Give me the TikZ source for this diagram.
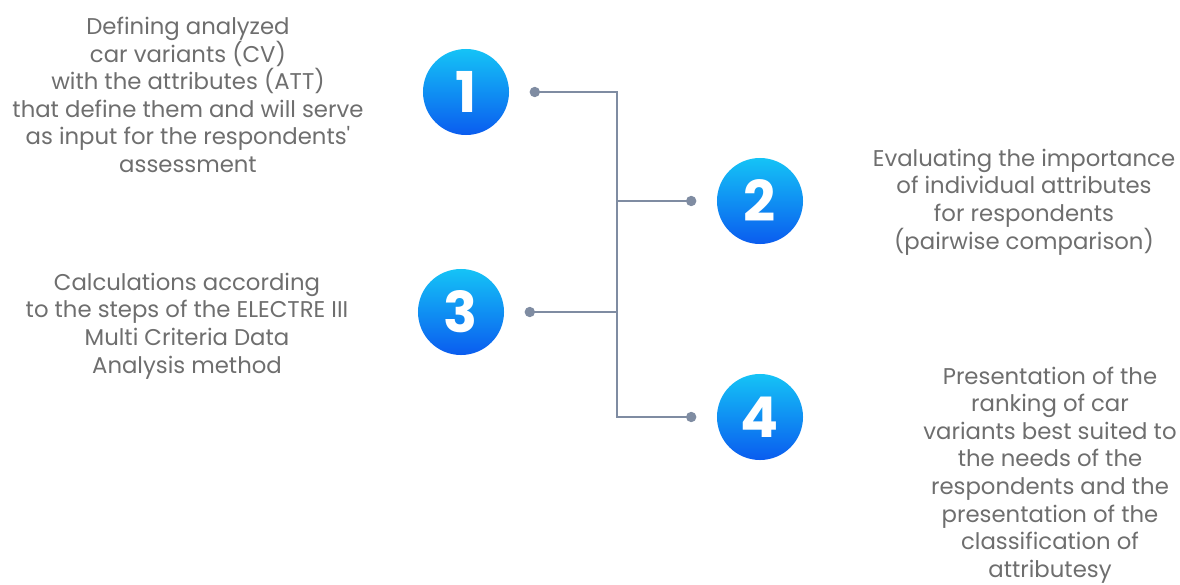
\documentclass[tikz,border=0pt]{standalone}
\usepackage{fontspec}
\setmainfont{Poppins}
\usepackage{tikz}
\usetikzlibrary{positioning}

\definecolor{steplight}{HTML}{15C3F6}
\definecolor{stepdark}{HTML}{0A5CEF}
\definecolor{wirecol}{HTML}{7F8CA2}
\definecolor{textgrey}{HTML}{6E6E6E}

\begin{document}
\begin{tikzpicture}
  [
    x = 0.025cm, y = -0.025cm,
    node distance = 0.5cm and 0.5cm,
    num/.style = {circle, minimum size = 2.15cm, inner sep = 0pt,
                  top color = steplight, bottom color = stepdark,
                  text = white, font = \fontsize{40}{40}\selectfont\bfseries},
    dot/.style = {circle, fill = wirecol, minimum size = 0.26cm, inner sep = 0pt},
    wire/.style = {draw = wirecol, line width = 1.5pt},
    desc/.style = {align = center, text = textgrey,
                   font = \fontsize{16.2}{19.6}\selectfont},
  ]
  \useasboundingbox (0,0) rectangle (1180,585);

  % numbered steps
  \node[num] (n1) at (466,92) {1};
  \node[num] (n2) at (760,201) {2};
  \node[num] (n3) at (461,312) {3};
  \node[num] (n4) at (760,417) {4};

  % connector ends
  \node[dot] [right = of n1] (d1) {};
  \node[dot] [left = of n2] (d2) {};
  \node[dot] [right = of n3] (d3) {};
  \node[dot] [left = of n4] (d4) {};

  \coordinate (top) at (617,92);
  \coordinate (bot) at (617,417);

  \draw[wire] (d1.center) -- (top) -- (bot) -- (d4.center);
  \draw[wire] (d2.center) -- (d2 -| top);
  \draw[wire] (d3.center) -- (d3 -| top);

  % descriptions
  \node[desc] (t1) at (188,95) {Defining analyzed\\car variants (CV)\\with the attributes (ATT)\\that define them and will serve\\as input for the respondents\textquotesingle\\assessment};
  \node[desc] (t2) at (1024,202) {Evaluating the importance\\of individual attributes\\for respondents\\(pairwise comparison)};
  \node[desc] (t3) at (187,326) {Calculations according\\to the steps of the ELECTRE III\\Multi Criteria Data\\Analysis method};
  \node[desc] (t4) at (1050,475) {Presentation of the\\ranking of car\\variants best suited to\\the needs of the\\respondents and the\\presentation of the\\classification of\\attributesy};
\end{tikzpicture}
\end{document}
